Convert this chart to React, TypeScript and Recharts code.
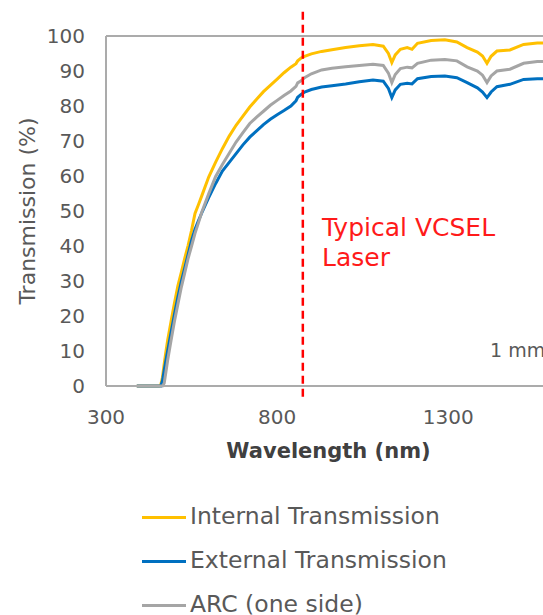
import React from 'react';
import { LineChart, Line, XAxis, YAxis, ReferenceLine, ReferenceDot, Legend, Label } from 'recharts';

const wavelengths = [390, 455, 460, 465, 470, 475, 480, 490, 500, 510, 520, 530, 540, 550, 560, 570, 580, 600, 620, 640, 660, 680, 700, 720, 740, 760, 780, 800, 820, 840, 855, 860, 870, 880, 900, 930, 960, 1000, 1040, 1080, 1110, 1125, 1135, 1145, 1160, 1180, 1194, 1210, 1250, 1290, 1325, 1355, 1385, 1400, 1413, 1425, 1442, 1480, 1520, 1560, 1600];

const internalTransmission = [0, 0, 0.3, 2.5, 6.3, 9.8, 13, 18.4, 23.7, 28.6, 32.5, 36.5, 40.2, 44.5, 49.3, 51.8, 54.4, 59.7, 63.9, 67.8, 71.4, 74.5, 77.1, 79.7, 81.9, 84.1, 85.9, 87.7, 89.5, 91.1, 92.1, 92.9, 93.7, 94.2, 94.9, 95.6, 96.1, 96.7, 97.2, 97.6, 97.1, 95, 92.4, 94.6, 96.2, 96.7, 96.2, 97.9, 98.7, 98.9, 98.3, 96.7, 95.4, 94.3, 92.2, 94.2, 95.7, 96, 97.6, 98, 98];

const externalTransmission = [0, 0, 0, 1.5, 4.5, 7.3, 10, 15.3, 20.5, 25.4, 29.8, 33.7, 37.6, 41.6, 44.8, 47.2, 49.5, 53.8, 57.8, 61.4, 63.9, 66.4, 68.9, 71.1, 72.9, 74.7, 76.2, 77.5, 78.7, 80, 81.5, 82.5, 83.3, 84, 84.7, 85.4, 85.8, 86.3, 86.9, 87.4, 87.1, 85, 82.4, 84.6, 86.2, 86.5, 86.3, 87.8, 88.4, 88.6, 88.1, 86.7, 85.2, 84, 82.4, 84, 85.5, 86.2, 87.6, 87.8, 87.8];

const arcOneSide = [0, 0, 0, 0, 0.8, 4, 7.3, 13, 18.5, 23.4, 28.2, 32.3, 36.5, 40, 43.6, 46.6, 49.7, 54.9, 59.8, 63.3, 66.5, 69.7, 72.4, 75, 76.8, 78.5, 80.2, 81.6, 83, 84.3, 85.6, 86.6, 87.2, 88.1, 89.2, 90.3, 90.8, 91.2, 91.6, 91.9, 91.6, 89.4, 86.7, 89, 90.7, 91.1, 90.9, 92.2, 93.1, 93.3, 92.9, 91.2, 90, 88.8, 86.7, 88.6, 90, 90.5, 92.2, 92.7, 92.8];

const seriesKeys = ['internal', 'external', 'arc'];
const seriesNames = ['Internal Transmission', 'External Transmission', 'ARC (one side)'];
const seriesColors = ['#FFC000', '#0070C0', '#A5A5A5'];

const xTicks = [300, 800, 1300];
const yTicks = [0, 10, 20, 30, 40, 50, 60, 70, 80, 90, 100];
const xDomain = [300, 1600];
const laserWavelength = 875;
const laserLabel = ['Typical VCSEL', 'Laser'];
const thicknessLabel = '1 mm';

const data = wavelengths.map((wl, i) => ({
  wl,
  internal: internalTransmission[i],
  external: externalTransmission[i],
  arc: arcOneSide[i],
}));

const FONT = "'DejaVu Sans', sans-serif";
const AXIS = '#ababab';
const TEXT = '#595959';

const LegendContent = () => (
  <div style={{ display: 'flex', flexDirection: 'column' }}>
    {[0, 1, 2].map((i) => (
      <div key={seriesNames[i]} style={{ display: 'flex', alignItems: 'center', height: 44 }}>
        <span style={{ display: 'inline-block', width: 44, height: 3, background: seriesColors[i] }} />
        <span style={{ marginLeft: 4, fontSize: 23.5, color: TEXT, fontFamily: FONT, lineHeight: 1 }}>{seriesNames[i]}</span>
      </div>
    ))}
  </div>
);

export default function App() {
  return (
    <div style={{ position: 'absolute', left: 0, top: 0, width: 543, height: 615, overflow: 'hidden', background: '#fff' }}>
      <LineChart width={560} height={615} data={data} margin={{ top: 36, right: 9, bottom: 149, left: 0 }}>
        <XAxis
          dataKey="wl"
          type="number"
          domain={xDomain}
          ticks={xTicks}
          allowDataOverflow
          tickLine={false}
          tickSize={0}
          tickMargin={24}
          height={80}
          axisLine={{ stroke: AXIS, strokeWidth: 2 }}
          tick={{ fill: TEXT, fontSize: 20, fontFamily: FONT }}
        >
          <Label
            content={(p: any) => {
              const vb = p.viewBox;
              return (
                <text x={vb.x + vb.width / 2} y={vb.y + 72} textAnchor="middle" fill="#404040" fontSize={21} fontWeight={700} fontFamily={FONT}>
                  Wavelength (nm)
                </text>
              );
            }}
          />
        </XAxis>
        <YAxis
          type="number"
          domain={[0, 100]}
          ticks={yTicks}
          width={106}
          tickLine={false}
          tickSize={0}
          tickMargin={21}
          axisLine={{ stroke: AXIS, strokeWidth: 2 }}
          tick={{ fill: TEXT, fontSize: 20, fontFamily: FONT }}
        >
          <Label
            content={(p: any) => {
              const vb = p.viewBox;
              const cx = vb.x + 27;
              const cy = vb.y + vb.height / 2;
              return (
                <text x={cx} y={cy} transform={`rotate(-90, ${cx}, ${cy})`} textAnchor="middle" dominantBaseline="central" fill={TEXT} fontSize={22} fontFamily={FONT}>
                  Transmission (%)
                </text>
              );
            }}
          />
        </YAxis>
        <ReferenceLine y={100} stroke={AXIS} strokeWidth={2} />
        <ReferenceLine x={1600} stroke={AXIS} strokeWidth={2} />
        {seriesKeys.map((k, i) => (
          <Line
            key={k}
            dataKey={k}
            name={seriesNames[i]}
            type="linear"
            stroke={seriesColors[i]}
            strokeWidth={3}
            dot={false}
            activeDot={false}
            isAnimationActive={false}
          />
        ))}
        <ReferenceLine
          segment={[{ x: laserWavelength, y: -3.1 }, { x: laserWavelength, y: 108 }]}
          ifOverflow="visible"
          stroke="#FF0000"
          strokeWidth={2.5}
          strokeDasharray="8 5"
        />
        <ReferenceDot
          x={931}
          y={43}
          r={0}
          fill="none"
          stroke="none"
          ifOverflow="visible"
          label={{
            content: (p: any) => {
              const vb = p.viewBox;
              return (
                <text x={vb.x} y={vb.y} fill="#FF1A1A" fontSize={25} fontFamily={FONT}>
                  <tspan x={vb.x} dy={0}>{laserLabel[0]}</tspan>
                  <tspan x={vb.x} dy={30}>{laserLabel[1]}</tspan>
                </text>
              );
            },
          }}
        />
        <ReferenceDot
          x={1422}
          y={8.3}
          r={0}
          fill="none"
          stroke="none"
          ifOverflow="visible"
          label={{
            content: (p: any) => {
              const vb = p.viewBox;
              return (
                <text x={vb.x} y={vb.y} fill={TEXT} fontSize={19} fontFamily={FONT}>
                  {thicknessLabel}
                </text>
              );
            },
          }}
        />
        <Legend
          layout="vertical"
          align="center"
          verticalAlign="middle"
          content={<LegendContent />}
          wrapperStyle={{ left: 142, top: 495, width: 400 }}
        />
      </LineChart>
    </div>
  );
}
